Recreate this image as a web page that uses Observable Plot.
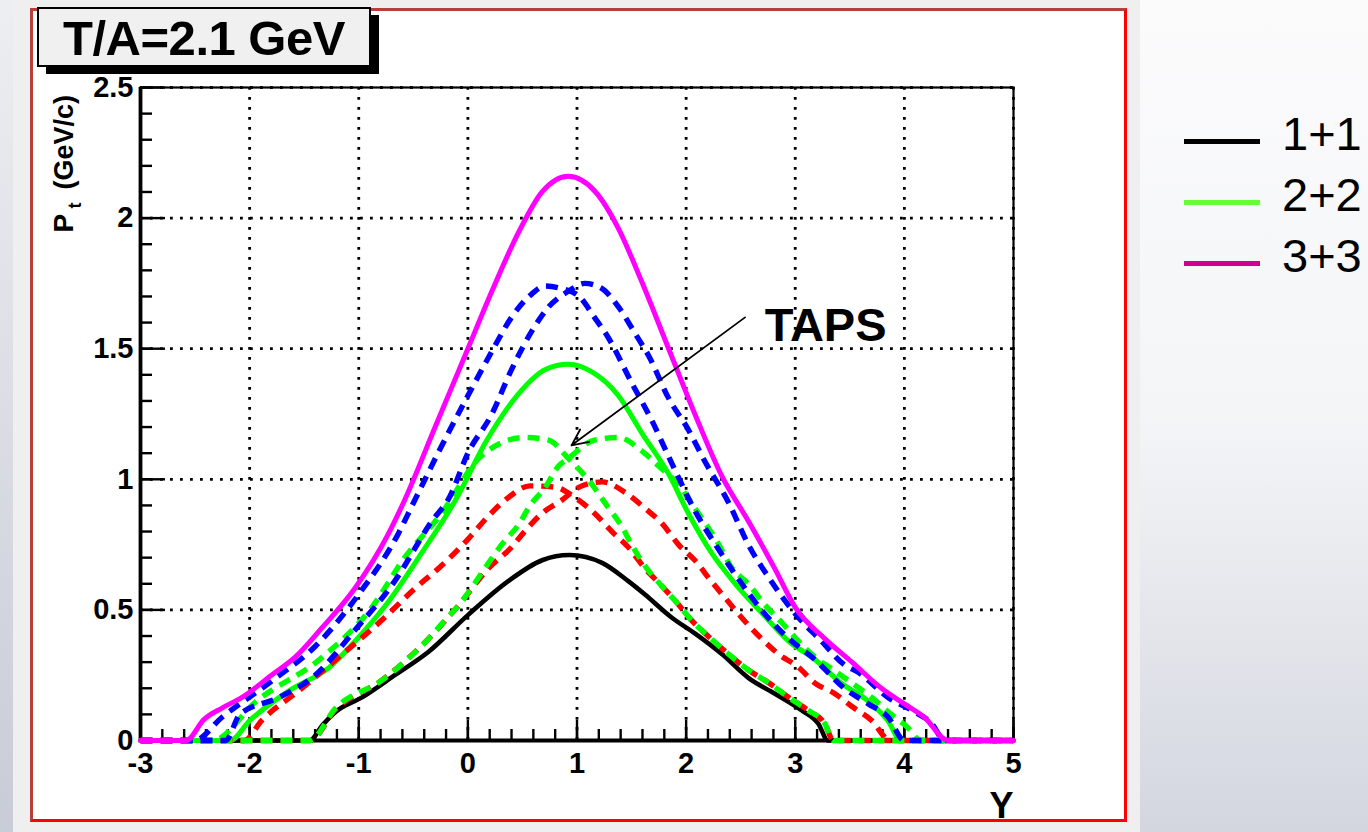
<!DOCTYPE html>
<html>
<head>
<meta charset="utf-8">
<script src="https://cdn.jsdelivr.net/npm/d3@7"></script>
<script src="https://cdn.jsdelivr.net/npm/@observablehq/plot@0.6"></script>
<style>
html,body{margin:0;padding:0;}
body{width:1368px;height:832px;position:relative;overflow:hidden;background:#efefef;font-family:"Liberation Sans",Arial,Helvetica,sans-serif;}
#leftstrip{position:absolute;left:0;top:0;width:13px;height:832px;background:linear-gradient(#eceef1,#c8ccd6);}
#rightbg{position:absolute;left:1140px;top:0;width:228px;height:832px;background:linear-gradient(#fbfbfc 0%,#f4f5f7 50%,#d3d6df 100%);}
#panel{position:absolute;left:30px;top:8px;width:1097px;height:814px;box-sizing:border-box;background:#fff;border:3px solid #ff0000;border-top-color:#b8403a;border-left-color:#b8403a;}
#chart{position:absolute;left:30px;top:8px;}
#shadow{position:absolute;left:46px;top:15px;width:333px;height:59px;background:#000;}
#titlebox{position:absolute;left:37px;top:7px;width:334px;height:60px;box-sizing:border-box;background:#f0f0f0;border:2.5px solid #000;display:flex;align-items:center;justify-content:center;font-weight:bold;font-size:49px;color:#000;letter-spacing:-0.5px;padding-top:2px;}
.lg-line{position:absolute;left:1184px;width:76px;height:5px;}
.lg-text{position:absolute;left:1282px;font-size:47px;line-height:47px;color:#000;}
</style>
</head>
<body>
<div id="leftstrip"></div>
<div id="rightbg"></div>
<div id="panel"></div>
<div id="chart"></div>
<div id="shadow"></div>
<div id="titlebox"></div>
<div id="legend"></div>
<script>
// ---- text ----
const titleText = "T/A=2.1 GeV";
const annotationText = "TAPS";
const xAxisTitle = "Y";
const yAxisTitleMain = "P";
const yAxisTitleSub = "t";
const yAxisTitleUnit = "(GeV/c)";

// ---- ticks ----
const xMajorTicks = [-3, -2, -1, 0, 1, 2, 3, 4, 5];
const xMinorTicks = d3.range(-3, 5.001, 0.2).map(v => Math.round(v * 10) / 10);
const yMajorTicks = [0, 0.5, 1, 1.5, 2, 2.5];
const yMinorTicks = d3.range(0, 2.501, 0.1).map(v => Math.round(v * 10) / 10);

// ---- legend ----
const legendLabels = ["1+1", "2+2", "3+3"];
const legendColors = ["#000000", "#66ff33", "#cc0099"];

// ---- series: [Y, Pt (GeV/c)] ----
const black11 = [[-3,0],[-1.45,0],[-1.33,0.06],[-1.21,0.11],[-0.97,0.165],[-0.67,0.25],[-0.36,0.34],[0,0.48],[0.37,0.61],[0.68,0.69],[0.93,0.71],[1.23,0.68],[1.47,0.61],[1.62,0.56],[1.87,0.47],[2.08,0.41],[2.33,0.33],[2.57,0.24],[2.81,0.18],[3.06,0.115],[3.21,0.065],[3.3,0],[5,0]];
const green22 = [[-3,0],[-2.18,0],[-2.0,0.076],[-1.64,0.19],[-1.27,0.28],[-0.97,0.41],[-0.73,0.53],[-0.42,0.72],[-0.1,0.93],[0.16,1.14],[0.47,1.33],[0.71,1.42],[0.92,1.44],[1.14,1.41],[1.38,1.32],[1.59,1.18],[1.84,1.02],[2.02,0.87],[2.23,0.72],[2.45,0.6],[2.69,0.49],[2.94,0.38],[3.18,0.31],[3.42,0.22],[3.67,0.15],[3.85,0.075],[3.97,0],[5,0]];
const magenta33 = [[-3,0],[-2.58,0],[-2.42,0.08],[-2.25,0.125],[-2.07,0.165],[-1.8,0.25],[-1.58,0.32],[-1.34,0.43],[-1.04,0.58],[-0.73,0.79],[-0.58,0.92],[-0.3,1.2],[0,1.5],[0.22,1.72],[0.47,1.95],[0.68,2.1],[0.92,2.16],[1.17,2.1],[1.38,1.96],[1.59,1.76],[1.84,1.5],[2.08,1.25],[2.33,1.01],[2.57,0.84],[2.81,0.66],[3.0,0.51],[3.27,0.39],[3.52,0.3],[3.79,0.2],[4.0,0.14],[4.18,0.09],[4.4,0],[5,0]];
const blueA = [[-3,0],[-2.51,0],[-2.25,0.09],[-1.79,0.23],[-1.4,0.36],[-1.0,0.56],[-0.64,0.79],[-0.51,0.9],[-0.25,1.12],[0,1.32],[0.22,1.49],[0.4,1.62],[0.56,1.7],[0.71,1.74],[0.86,1.73],[1.02,1.7],[1.16,1.62],[1.29,1.54],[1.5,1.37],[1.68,1.23],[1.87,1.06],[2.08,0.88],[2.3,0.73],[2.51,0.6],[2.69,0.5],[2.94,0.39],[3.18,0.31],[3.45,0.2],[3.67,0.14],[3.85,0.09],[4.0,0],[5,0]];
const blueB = [[-3,0],[-2.22,0],[-2.09,0.1],[-1.73,0.165],[-1.4,0.25],[-1.04,0.42],[-0.67,0.61],[-0.33,0.84],[-0.17,0.93],[0,1.1],[0.22,1.25],[0.4,1.42],[0.59,1.57],[0.74,1.66],[0.92,1.72],[1.07,1.75],[1.23,1.73],[1.38,1.66],[1.53,1.56],[1.66,1.47],[1.84,1.31],[2.02,1.19],[2.17,1.07],[2.39,0.91],[2.57,0.75],[2.78,0.61],[2.99,0.49],[3.24,0.38],[3.45,0.29],[3.58,0.26],[3.85,0.165],[4.07,0.115],[4.25,0.065],[4.37,0],[5,0]];
const greenDashA = [[-3,0],[-2.34,0],[-1.94,0.15],[-1.33,0.32],[-0.88,0.51],[-0.58,0.7],[-0.24,0.87],[0.1,1.08],[0.31,1.14],[0.52,1.16],[0.74,1.15],[0.92,1.08],[1.1,1.0],[1.29,0.89],[1.41,0.82],[1.5,0.75],[1.62,0.67],[1.78,0.59],[1.91,0.53],[2.05,0.46],[2.2,0.4],[2.39,0.33],[2.57,0.27],[2.76,0.22],[2.94,0.165],[3.12,0.115],[3.27,0.065],[3.35,0],[5,0]];
const greenDashB = [[-3,0],[-1.45,0],[-1.21,0.125],[-0.79,0.23],[-0.36,0.39],[-0.21,0.46],[-0.08,0.52],[0.06,0.6],[0.19,0.68],[0.31,0.75],[0.47,0.83],[0.57,0.9],[0.71,0.97],[0.83,1.05],[0.92,1.08],[1.16,1.15],[1.38,1.16],[1.59,1.11],[1.75,1.05],[1.93,0.98],[2.08,0.89],[2.3,0.75],[2.42,0.66],[2.57,0.6],[2.72,0.52],[2.88,0.45],[3.03,0.38],[3.18,0.32],[3.35,0.27],[3.52,0.22],[3.7,0.165],[3.88,0.1],[4.03,0.05],[4.15,0],[5,0]];
const redDashA = [[-3,0],[-2.05,0],[-1.89,0.076],[-1.52,0.2],[-1.18,0.32],[-0.79,0.46],[-0.49,0.58],[-0.24,0.67],[0,0.77],[0.19,0.86],[0.37,0.93],[0.57,0.975],[0.8,0.97],[0.98,0.93],[1.16,0.87],[1.32,0.8],[1.47,0.74],[1.62,0.66],[1.78,0.59],[1.91,0.53],[2.05,0.46],[2.2,0.4],[2.39,0.33],[2.57,0.27],[2.76,0.22],[2.94,0.165],[3.12,0.115],[3.27,0.065],[3.35,0],[5,0]];
const redDashB = [[-3,0],[-1.45,0],[-1.21,0.12],[-0.79,0.23],[-0.36,0.39],[-0.08,0.52],[0.19,0.66],[0.4,0.74],[0.52,0.8],[0.68,0.87],[0.86,0.92],[1.02,0.97],[1.23,0.99],[1.44,0.95],[1.62,0.89],[1.78,0.83],[1.93,0.75],[2.08,0.69],[2.23,0.61],[2.35,0.55],[2.51,0.47],[2.69,0.39],[2.85,0.33],[3.03,0.28],[3.18,0.22],[3.36,0.18],[3.52,0.13],[3.7,0.077],[3.87,0],[5,0]];

// ---- annotation ----
const tapsLabel = [{x: 2.72, y: 1.531, text: annotationText}];
const tapsArrow = [{x1: 2.54, y1: 1.62, x2: 0.95, y2: 1.13}];

// ---- styles ----
const FONT = '"Liberation Sans", Arial, Helvetica, sans-serif';
const W = 1097, H = 814, ML = 110, MR = 114, MT = 79, MB = 82;
const innerW = W - ML - MR, innerH = H - MT - MB;

const toRows = arr => arr.map(([x, y]) => ({x, y}));
const dashed = (arr, color) => Plot.line(toRows(arr), {x: "x", y: "y", stroke: color, strokeWidth: 5.4, strokeDasharray: "12,8", curve: "monotone-x", strokeLinecap: "butt"});
const solid = (arr, color, w) => Plot.line(toRows(arr), {x: "x", y: "y", stroke: color, strokeWidth: w, curve: "monotone-x", strokeLinejoin: "round"});

const chart = Plot.plot({
  width: W, height: H,
  marginLeft: ML, marginRight: MR, marginTop: MT, marginBottom: MB,
  x: {domain: [-3, 5]},
  y: {domain: [0, 2.5]},
  style: {background: "transparent", fontFamily: FONT, overflow: "visible", color: "black"},
  marks: [
    Plot.gridX(xMajorTicks, {stroke: "black", strokeOpacity: 1, strokeWidth: 2.8, strokeDasharray: "2.8,7.2"}),
    Plot.gridY(yMajorTicks, {stroke: "black", strokeOpacity: 1, strokeWidth: 2.8, strokeDasharray: "2.8,7.2"}),
    Plot.frame({stroke: "black", strokeWidth: 2.2}),
    Plot.ruleX([-3], {stroke: "black", strokeWidth: 3.8}),
    Plot.ruleY([0], {stroke: "black", strokeWidth: 3.8}),
    Plot.tickX(xMajorTicks, {x: d => d, insetTop: innerH - 20, stroke: "black", strokeWidth: 2.4}),
    Plot.tickX(xMinorTicks, {x: d => d, insetTop: innerH - 11, stroke: "black", strokeWidth: 2.4}),
    Plot.tickY(yMajorTicks, {y: d => d, insetRight: innerW - 25, stroke: "black", strokeWidth: 2.4}),
    Plot.tickY(yMinorTicks, {y: d => d, insetRight: innerW - 12, stroke: "black", strokeWidth: 2.4}),
    Plot.axisX(xMajorTicks, {tickSize: 0, tickPadding: 12, tickFormat: d => String(d), fontSize: 29, fontWeight: "bold", label: null}),
    Plot.axisY(yMajorTicks, {tickSize: 0, tickPadding: 7, tickFormat: d => String(d), fontSize: 29, fontWeight: "bold", label: null}),
    // curves (bottom to top)
    solid(black11, "#000000", 4.6),
    solid(green22, "#00ff00", 5),
    dashed(redDashA, "#ff0000"),
    dashed(redDashB, "#ff0000"),
    dashed(greenDashA, "#00ff00"),
    dashed(greenDashB, "#00ff00"),
    dashed(blueA, "#0000ff"),
    dashed(blueB, "#0000ff"),
    solid(magenta33, "#ff00ff", 5),
    // annotation
    Plot.arrow(tapsArrow, {x1: "x1", y1: "y1", x2: "x2", y2: "y2", stroke: "black", strokeWidth: 1.8, headLength: 15, headAngle: 50}),
    Plot.text(tapsLabel, {x: "x", y: "y", text: "text", textAnchor: "start", lineAnchor: "bottom", fontSize: 47, fontWeight: "bold", fill: "black"}),
    // axis titles
    Plot.text([xAxisTitle], {frameAnchor: "bottom-right", text: d => d, textAnchor: "end", lineAnchor: "bottom", dy: 77, fontSize: 36, fontWeight: "bold", fill: "black"}),
    Plot.text([yAxisTitleMain], {frameAnchor: "top-left", text: d => d, rotate: -90, textAnchor: "start", lineAnchor: "bottom", dx: -68, dy: 145, fontSize: 28, fontWeight: "bold", fill: "black"}),
    Plot.text([yAxisTitleSub], {frameAnchor: "top-left", text: d => d, rotate: -90, textAnchor: "start", lineAnchor: "bottom", dx: -60, dy: 121, fontSize: 18, fontWeight: "bold", fill: "black"}),
    Plot.text([yAxisTitleUnit], {frameAnchor: "top-left", text: d => d, rotate: -90, textAnchor: "start", lineAnchor: "bottom", dx: -68, dy: 102, fontSize: 27, fontWeight: "bold", fill: "black"})
  ]
});
document.getElementById("chart").appendChild(chart);

document.getElementById("titlebox").textContent = titleText;

// legend
const legendTops = [141, 202, 263];
const legend = document.getElementById("legend");
legendLabels.forEach((lab, i) => {
  const ln = document.createElement("div");
  ln.className = "lg-line";
  ln.style.top = (legendTops[i] - 2.5) + "px";
  ln.style.background = legendColors[i];
  legend.appendChild(ln);
  const tx = document.createElement("div");
  tx.className = "lg-text";
  tx.style.top = (legendTops[i] - 8 - 23) + "px";
  tx.textContent = lab;
  legend.appendChild(tx);
});
</script>
</body>
</html>
